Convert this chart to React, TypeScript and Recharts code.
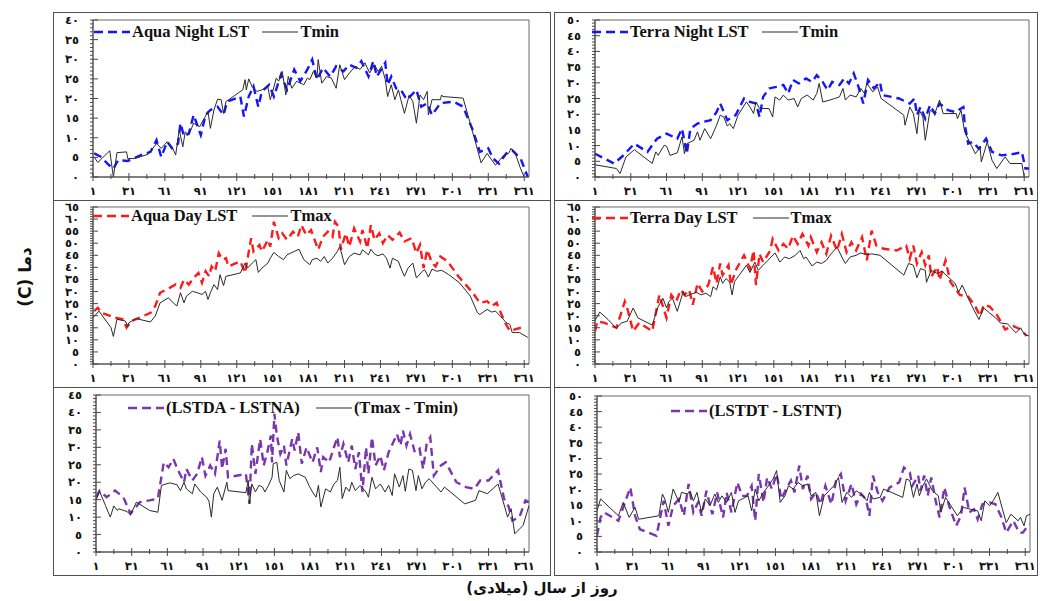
import React from "react";
import { LineChart, Line, XAxis, YAxis, ReferenceArea, Legend } from "recharts";

type Pt = [number, number];

// x axis: day of year
const dayTicks = [1, 16, 31, 46, 61, 76, 91, 106, 121, 136, 151, 166, 181, 196, 211, 226, 241, 256, 271, 286, 301, 316, 331, 346, 361];
const dayLabels = [1, 31, 61, 91, 121, 151, 181, 211, 241, 271, 301, 331, 361];

// top-left: Aqua night LST vs Tmin
const aquaNightLst: Pt[] = [
  [2, 6], [8, 5.1], [13, 3.4], [18, 2.1], [22, 4.3], [30, 4.1], [41, 5.6], [49, 6.4], [54, 9.4], [58, 5.1],
  [63, 9], [67, 7.3], [72, 8.5], [74, 13.7], [77, 10.3], [81, 11.1], [85, 15.8], [91, 10.7], [95, 15.8], [99, 17.1],
  [105, 17.9], [110, 15.8], [113, 19.2], [124, 20.5], [127, 15.4], [131, 20.5], [135, 23.1], [139, 17.9], [142, 21.8],
  [148, 23.5], [152, 20.5], [158, 26.1], [163, 22.2], [169, 27.4], [174, 24.4], [180, 27.4], [184, 29.9], [188, 24.8],
  [193, 27.8], [199, 25.6], [204, 28.2], [210, 26.9], [215, 28.6], [221, 27.8], [225, 29.5], [231, 25.6], [235, 29.5],
  [238, 25.6], [245, 29.1], [247, 23.5], [250, 25.6], [254, 22.6], [258, 22.2], [263, 19.7], [267, 20.9], [271, 22.2],
  [275, 17.9], [280, 18.8], [284, 15.8], [291, 18.8], [302, 19.2], [310, 17.9], [318, 12], [324, 6.4], [331, 7.3],
  [335, 4.7], [340, 3.4], [346, 6], [351, 6.8], [358, 4.7], [364, 0],
];
const tminAqua: Pt[] = [
  [2, 5.1], [5, 3.7], [15, 6.7], [18, 0], [21, 6.2], [29, 6.4], [30, 4.7], [36, 4.7], [47, 5.8], [54, 8.5], [58, 7.3],
  [63, 9], [67, 7.7], [70, 5.6], [73, 12], [76, 7.7], [78, 11.5], [81, 10.7], [85, 13.7], [90, 12.8], [94, 15], [97, 16.7],
  [99, 12.4], [102, 17.1], [105, 19.8], [108, 19.7], [110, 16.2], [112, 19.2], [126, 22.2], [128, 24.8], [129, 22.2],
  [131, 25], [134, 22.9], [138, 21.8], [142, 22.2], [147, 22.9], [149, 19.7], [152, 22.9], [154, 25.2], [156, 24.4],
  [159, 26.9], [162, 20.9], [164, 25.6], [167, 22.6], [171, 24.4], [177, 23.5], [180, 25.2], [182, 24.8], [185, 26.9],
  [188, 25.2], [189, 29.9], [192, 23.9], [196, 25.6], [200, 25.2], [204, 22.6], [207, 28.6], [211, 24.8], [215, 26.5],
  [220, 28.2], [224, 27.4], [228, 29.1], [232, 26.5], [236, 28.6], [239, 26.9], [242, 28.2], [245, 24.8], [247, 20.5],
  [250, 23.5], [253, 19.7], [256, 22.2], [258, 19.7], [261, 16.2], [265, 20.9], [268, 19.2], [271, 13.7], [274, 20.9],
  [277, 19.7], [280, 21.8], [281, 15.8], [284, 19.7], [291, 19.7], [292, 20.9], [293, 20.5], [310, 20.1], [319, 10.3],
  [325, 3.6], [330, 6], [337, 3], [344, 5.6], [348, 6], [350, 7.3], [354, 5.6], [358, 2.1], [361, 0],
];

// top-right: Terra night LST vs Tmin
const terraNightLst: Pt[] = [
  [1, 7.4], [17, 4.3], [24, 6.6], [34, 10.6], [45, 8], [53, 12.2], [61, 13.8], [70, 12.2], [74, 15.4], [78, 7.4],
  [81, 15.4], [87, 17], [92, 17.6], [98, 18.1], [103, 20.7], [106, 23.4], [112, 18.1], [119, 19.7], [126, 25], [131, 23.9],
  [136, 23.4], [139, 19.1], [142, 25.5], [147, 28.2], [153, 28.7], [159, 29.3], [163, 26.6], [167, 30.9], [172, 29.8],
  [178, 31.4], [183, 30.3], [187, 32.4], [192, 30.3], [196, 27.7], [200, 30.3], [206, 29.3], [210, 31.4], [214, 29.8],
  [218, 33], [222, 28.7], [226, 23.4], [230, 30.9], [235, 28.2], [240, 30.3], [242, 26.1], [256, 25], [265, 23.4],
  [269, 25], [271, 19.7], [274, 22.3], [278, 18.6], [282, 22.9], [286, 20.2], [290, 23.4], [297, 21.3], [303, 20.7],
  [310, 22.3], [311, 17], [314, 10.6], [318, 11.2], [323, 9], [329, 12.2], [334, 8], [342, 6.9], [353, 7.4], [359, 8],
  [362, 2.7], [365, 2.7],
];
const tminTerra: Pt[] = [
  [1, 3.9], [19, 2.7], [22, 1.1], [27, 6.4], [34, 8.7], [49, 4.3], [52, 8], [54, 6.9], [59, 10.1], [61, 9.8], [64, 6.9],
  [70, 7.7], [74, 12.8], [76, 7.4], [78, 10.6], [84, 11.7], [87, 14.4], [89, 11.7], [93, 15.4], [98, 12.2], [103, 16.5],
  [106, 19.7], [109, 19.1], [112, 16.2], [114, 17], [117, 15.4], [121, 19.7], [128, 23.9], [131, 22.3], [134, 20.2],
  [136, 23.9], [139, 21.8], [147, 21.8], [150, 19.1], [152, 25.5], [156, 24.5], [159, 26.1], [163, 24.5], [168, 25],
  [171, 22.3], [174, 25], [179, 26.1], [184, 24.5], [187, 26.6], [189, 29.8], [192, 23.9], [198, 24.5], [202, 25],
  [206, 25.5], [209, 28.2], [211, 24.5], [215, 26.1], [220, 25.5], [224, 28.2], [227, 26.6], [229, 29.8], [234, 27.1],
  [238, 28.7], [241, 25], [260, 19.7], [261, 16.5], [265, 22.3], [268, 20.2], [271, 13.8], [273, 21.3], [276, 19.1],
  [278, 11.7], [282, 21.3], [286, 20.2], [290, 24.5], [293, 20.2], [304, 20.2], [305, 18.6], [308, 21.3], [311, 14.4],
  [320, 7.4], [324, 9.6], [325, 4.8], [330, 11.2], [334, 5.3], [338, 2.7], [345, 6.4], [349, 4.3], [359, 4.3], [361, 0],
];

// middle-left: Aqua day LST vs Tmax
const aquaDayLst: Pt[] = [
  [2, 21.9], [5, 23.3], [8, 21.2], [19, 19.2], [26, 18.5], [29, 15.1], [33, 17.8], [40, 19.2], [49, 21.2], [53, 24],
  [57, 29.5], [65, 31.5], [70, 32.9], [74, 31.5], [77, 34.9], [81, 32.9], [85, 35.6], [89, 37.7], [92, 33.6], [95, 38.4],
  [98, 36.3], [100, 40.4], [103, 38.4], [106, 45.9], [109, 43.2], [112, 43.8], [114, 40.4], [124, 42.5], [128, 37.7],
  [133, 52.1], [135, 46.6], [140, 49.3], [142, 46.6], [147, 51.4], [149, 48.6], [152, 58.9], [156, 52.1], [159, 54.1],
  [163, 51.4], [168, 54.8], [172, 52.7], [175, 57.5], [179, 53.4], [183, 55.5], [186, 51.4], [189, 47.3], [193, 52.7],
  [197, 54.8], [201, 52.7], [203, 58.9], [206, 56.8], [208, 47.3], [212, 54.1], [215, 48.6], [219, 56.2], [224, 50.7],
  [226, 55.5], [230, 47.9], [233, 57.5], [236, 51.4], [240, 54.1], [243, 50], [247, 53.4], [251, 51.4], [257, 54.4],
  [261, 50.7], [267, 52.1], [271, 45.9], [274, 49.3], [277, 39.7], [280, 47.3], [284, 41.8], [287, 40.4], [291, 44.5],
  [297, 42.5], [306, 36.3], [318, 29.5], [324, 25.3], [330, 26], [334, 24], [338, 25.3], [345, 17.1], [349, 13.7],
  [359, 15.1],
];
const tmaxAqua: Pt[] = [
  [1, 19.2], [6, 21.9], [12, 17.8], [16, 15.1], [18, 11.4], [21, 18.5], [28, 17.8], [30, 15.5], [31, 17.1], [37, 18.8],
  [49, 17.4], [53, 19.9], [57, 25.3], [64, 27.4], [68, 25.3], [71, 24], [74, 29.5], [77, 25.3], [79, 28.1], [84, 30.1],
  [88, 29.5], [92, 28.8], [95, 30.1], [97, 26.7], [99, 29.5], [102, 32.9], [105, 30.8], [107, 37], [110, 32.5],
  [112, 36.3], [124, 37.7], [128, 41.8], [130, 39.7], [134, 41.8], [137, 43.2], [139, 37.9], [142, 39.7], [147, 41.8],
  [149, 43.8], [152, 46.2], [156, 44.5], [160, 43.2], [163, 45.2], [169, 46.6], [173, 47.5], [177, 43.2], [182, 41.1],
  [184, 43.2], [188, 43.8], [191, 42.5], [194, 44.5], [197, 41.8], [201, 43.8], [205, 46.6], [207, 48.6], [211, 41.1],
  [215, 44.5], [219, 45.9], [224, 45.2], [226, 47.3], [231, 45.2], [233, 47.5], [236, 45.6], [239, 44.8], [243, 45.6],
  [246, 43.8], [249, 39.7], [251, 43.8], [256, 42.5], [258, 39.7], [261, 36.3], [264, 39.7], [268, 41.8], [271, 35.6],
  [276, 38.4], [278, 39], [281, 36], [284, 39.3], [288, 38.4], [292, 38.8], [298, 37], [307, 33.6], [316, 28.1],
  [322, 21.2], [324, 20.5], [330, 22.6], [334, 21.5], [337, 21.9], [341, 19.9], [346, 17.1], [349, 16.4], [351, 13],
  [357, 13], [364, 11],
];

// middle-right: Terra day LST vs Tmax
const terraDayLst: Pt[] = [
  [1, 13.6], [3, 17.7], [9, 17], [19, 15], [26, 25.9], [28, 23.2], [33, 13.6], [38, 17], [49, 13.6], [55, 28.6],
  [61, 19.1], [65, 28.6], [69, 25.9], [73, 30.7], [76, 28.6], [80, 30.7], [83, 24.5], [87, 33.4], [91, 30], [96, 32.7],
  [100, 40.2], [103, 33.4], [106, 41.6], [108, 36.8], [113, 40.9], [115, 32.7], [119, 38.8], [126, 45], [131, 39.5],
  [134, 47], [136, 32.7], [139, 45.6], [142, 42.2], [148, 47], [150, 51.8], [155, 47], [159, 49.7], [163, 47.7],
  [167, 53.1], [171, 49.7], [175, 53.8], [180, 49], [182, 52.5], [187, 46.3], [191, 50.4], [195, 45.6], [199, 53.1],
  [204, 47], [208, 53.8], [212, 46.3], [216, 50.4], [220, 47], [225, 52.5], [229, 42.9], [233, 55.2], [237, 49],
  [243, 47.7], [254, 47], [262, 49], [265, 43.6], [268, 49], [271, 41.6], [275, 46.3], [278, 40.9], [281, 45],
  [283, 36.1], [288, 40.2], [290, 34.7], [295, 42.9], [299, 34.1], [303, 31.3], [307, 28.6], [314, 27.9], [320, 23.8],
  [324, 19.8], [327, 24.5], [332, 23.8], [338, 20.4], [345, 14.3], [352, 15.7], [358, 14.3], [363, 11.6],
];
const tmaxTerra: Pt[] = [
  [1, 18], [5, 21.5], [12, 18.4], [19, 14.7], [23, 17], [28, 17.7], [33, 23.2], [37, 19.1], [49, 16.1], [54, 23.8],
  [58, 27.2], [61, 23.2], [63, 25.9], [66, 27.2], [70, 21.8], [75, 30], [77, 27.9], [80, 28.6], [86, 29.7], [90, 28.6],
  [94, 29.3], [98, 27.9], [100, 32], [103, 30.7], [106, 36.1], [108, 33.4], [111, 35.4], [114, 33.8], [116, 28.6],
  [118, 34.1], [128, 40.9], [131, 37.9], [135, 42.2], [138, 38.8], [142, 40.9], [146, 42.9], [152, 46], [156, 42.2],
  [160, 44.3], [164, 43.6], [169, 45], [173, 47], [176, 43.6], [178, 44.3], [183, 40.6], [187, 42.2], [191, 41.6],
  [195, 42.9], [199, 45.6], [204, 48.4], [208, 44.3], [211, 41.6], [215, 44.3], [220, 45], [224, 46], [229, 45.2],
  [233, 45.6], [240, 45], [260, 36.8], [264, 41.6], [268, 40.9], [271, 35.7], [274, 39.5], [278, 38.8], [279, 33.8],
  [283, 38.8], [288, 37.5], [292, 38.4], [297, 36.1], [303, 33.4], [306, 29.7], [309, 32.7], [314, 27.2], [318, 23.2],
  [323, 18.4], [327, 23.2], [332, 21.1], [337, 19.1], [341, 17], [347, 16.6], [354, 12.9], [358, 15], [361, 12.3],
  [365, 11.6],
];

// bottom-left: diurnal range, Aqua
const rangeAquaLst: Pt[] = [
  [1, 15.7], [4, 17.6], [10, 15.7], [17, 17.6], [24, 15.7], [30, 11], [38, 14.3], [46, 14.8], [53, 15.3], [58, 25.7],
  [62, 24.3], [66, 26.7], [70, 23.4], [75, 20], [77, 23.8], [82, 20.5], [86, 22.4], [90, 27.2], [93, 21.9], [97, 24.8],
  [101, 22.4], [105, 31.9], [107, 23.8], [110, 29.6], [112, 21.4], [127, 22.4], [130, 13.8], [132, 31], [135, 22.4],
  [139, 32.4], [142, 24.8], [145, 28.6], [148, 33.4], [149, 25.7], [151, 39.6], [153, 33.4], [156, 28.1], [159, 30.5],
  [161, 24.8], [166, 32.4], [168, 29.1], [171, 34.3], [174, 25.3], [178, 30], [183, 25.7], [187, 30], [190, 22.9],
  [192, 27.2], [197, 25.7], [201, 30], [204, 32.9], [206, 27.2], [209, 31], [213, 25.7], [216, 30.5], [219, 23.8],
  [222, 28.6], [225, 17.2], [228, 30], [230, 22.4], [233, 32.9], [236, 24.8], [240, 27.6], [243, 23.4], [247, 28.6],
  [251, 31.5], [254, 33.8], [257, 30.5], [259, 34.8], [262, 30.5], [265, 33.8], [269, 28.6], [273, 29.6], [276, 23.8],
  [279, 31], [282, 32.9], [285, 21.9], [291, 24.8], [295, 25.7], [304, 20], [312, 18.6], [319, 18.1], [324, 20.5],
  [331, 20.5], [339, 23.4], [344, 15.3], [348, 12.9], [351, 9], [357, 10], [362, 14.8], [365, 14.3],
];
const rangeAquaAir: Pt[] = [
  [1, 14.8], [4, 17.4], [9, 13.3], [13, 10], [16, 13.2], [19, 11.9], [20, 12.4], [27, 11.6], [30, 10.7], [35, 14.3],
  [46, 11.9], [53, 11.4], [56, 19.1], [63, 19.8], [69, 19.3], [72, 17.6], [75, 20], [77, 18.1], [82, 16.7], [84, 19.5],
  [89, 17.2], [94, 15.7], [96, 14.5], [98, 10], [100, 16.7], [103, 18.6], [107, 14.8], [111, 20], [112, 17.6], [127, 17],
  [129, 20.5], [130, 13.8], [132, 19.5], [135, 17.2], [138, 19.1], [141, 18.6], [143, 17.2], [146, 19.1], [149, 21.4],
  [150, 25.3], [153, 25.7], [155, 20.5], [159, 17.2], [161, 23.4], [164, 21], [167, 21.9], [171, 22.4], [177, 21.4],
  [180, 19.1], [183, 17.2], [186, 15.7], [188, 19.1], [190, 12.9], [194, 18.1], [198, 17.2], [201, 19.5], [204, 20.5],
  [206, 24.3], [208, 15.3], [211, 18.6], [214, 17.4], [216, 20], [219, 17.6], [223, 19.1], [228, 17.2], [230, 15.7],
  [233, 21.4], [236, 18.1], [240, 19.5], [244, 17.2], [247, 19.1], [250, 16.2], [252, 22.4], [256, 18.6], [259, 21.9],
  [261, 17.4], [264, 23.8], [267, 23.4], [270, 17.6], [272, 21.9], [275, 18.1], [278, 20], [281, 21], [285, 19.5],
  [291, 17.2], [294, 18.6], [311, 13.8], [320, 14.8], [323, 17.6], [330, 16.7], [339, 19.5], [343, 14.8], [347, 10],
  [350, 12.4], [353, 5.2], [360, 7.6], [365, 13.3],
];

// bottom-right: diurnal range, Terra
const rangeTerraLst: Pt[] = [
  [1, 5.2], [4, 11.1], [7, 12.7], [19, 10], [29, 20.7], [33, 11.6], [37, 7.3], [51, 5.2], [57, 16.4], [61, 8.4],
  [65, 14.8], [70, 17], [74, 11.6], [78, 21.8], [82, 12.7], [86, 15.9], [89, 11.6], [93, 19.6], [98, 12.1], [102, 19.1],
  [105, 14.3], [107, 11.1], [110, 19.1], [114, 12.7], [119, 22.3], [123, 18], [127, 18], [131, 21.2], [134, 10],
  [137, 25], [141, 15.9], [144, 23.9], [148, 20.2], [152, 25], [156, 17], [160, 20.2], [164, 22.9], [167, 19.1],
  [171, 27.7], [174, 20.2], [178, 24.5], [181, 17], [185, 19.1], [189, 15.3], [193, 21.2], [198, 15.3], [202, 22.9],
  [206, 25], [210, 16.4], [215, 21.8], [219, 15.3], [223, 18.6], [227, 17], [230, 11.6], [233, 24.5], [237, 19.1],
  [241, 16.4], [247, 20.7], [255, 22.3], [259, 27.1], [264, 25.5], [266, 21.2], [271, 24.5], [273, 19.6], [276, 24.5],
  [279, 18], [282, 23.9], [286, 15.9], [289, 11.1], [293, 20.7], [297, 14.8], [303, 8.4], [307, 11.6], [310, 20.7],
  [314, 12.7], [318, 13.7], [321, 10.5], [325, 15.3], [331, 15.9], [336, 15.3], [341, 11.1], [345, 6.2], [351, 10],
  [356, 6.2], [359, 6.2], [362, 7.8], [365, 8.9],
];
const rangeTerraAir: Pt[] = [
  [1, 13.2], [4, 17], [19, 11.6], [23, 15.9], [28, 11.1], [33, 14.3], [36, 10.5], [53, 11.6], [56, 18.6], [58, 17],
  [61, 12.7], [65, 20.2], [70, 15.9], [72, 19.1], [77, 18.6], [79, 19.6], [82, 16.4], [85, 19.1], [89, 12.7], [92, 17],
  [96, 14.8], [100, 18.6], [103, 15.9], [106, 18], [110, 15.9], [114, 19.1], [117, 12.7], [120, 16.4], [128, 18],
  [131, 13.2], [134, 20.2], [137, 16.4], [141, 19.1], [145, 21.2], [149, 23.4], [152, 26.1], [155, 15.9], [159, 18],
  [162, 21.2], [166, 20.2], [170, 22.3], [174, 21.2], [178, 21.8], [181, 18], [185, 19.1], [188, 11.6], [192, 18],
  [196, 19.6], [200, 21.2], [204, 23.9], [207, 15.9], [211, 19.1], [215, 17.5], [219, 19.6], [223, 18.6], [228, 16.4],
  [230, 19.1], [233, 17], [239, 17.5], [242, 20.2], [258, 17.5], [261, 23.4], [264, 22.9], [267, 17.5], [270, 21.8],
  [272, 18], [275, 21.2], [278, 23.4], [283, 19.6], [288, 18], [290, 12.7], [294, 17.5], [304, 11.6], [309, 14.3],
  [315, 13.7], [321, 13.2], [324, 10], [327, 16.4], [331, 14.8], [334, 16.4], [338, 19.1], [345, 9.4], [349, 12.1],
  [355, 10], [357, 11.1], [360, 8.4], [362, 11.6], [365, 12.1],
];

const BLUE = "#1414ff";
const RED = "#ff1a1a";
const PURPLE = "#7a36ae";
const BLACK = "#2a2a2a";
const AXIS = "#4a4a4a";

const YW = 30;
const XH = 20;
const PAD_TOP = 8;

const arabic = (n: number) => String(n).replace(/\d/g, (d) => "٠١٢٣٤٥٦٧٨٩"[Number(d)]);
const intTicks = (max: number) => Array.from({ length: max + 1 }, (_, i) => i);

const XTick = (props: any) => {
  const { x, y, payload } = props;
  const v = payload.value;
  const major = dayLabels.includes(v);
  return (
    <g>
      <line x1={x} x2={x} y1={major ? y - 4 : y - 3} y2={major ? y + 4 : y + 2} stroke={AXIS} strokeWidth={1} />
      {major && (
        <text x={x} y={y + 18} textAnchor="middle" fontSize={11.5} fontWeight={700} fill="#111" fontFamily="DejaVu Sans">
          {arabic(v)}
        </text>
      )}
    </g>
  );
};

const YTick = (props: any) => {
  const { x, y, payload } = props;
  const v = payload.value;
  const major = v % 5 === 0;
  return (
    <g>
      <line x1={x - 3} x2={major ? x + 5 : x} y1={y} y2={y} stroke={AXIS} strokeWidth={1} />
      {major && (
        <text x={x - 14} y={y} dy={4} textAnchor="end" fontSize={11.5} fontWeight={700} fill="#111" fontFamily="DejaVu Sans">
          {arabic(v)}
        </text>
      )}
    </g>
  );
};

const legendContent = (sample: number, gap: number) => (props: any) => {
  const items = (props.payload || []).filter((p: any) => p.type !== "none");
  return (
    <div
      style={{
        display: "flex",
        alignItems: "center",
        height: 20,
        whiteSpace: "nowrap",
        fontFamily: "'Liberation Serif', 'Times New Roman', serif",
        fontWeight: 700,
        fontSize: 16.5,
        color: "#111",
      }}
    >
      {items.map((p: any, i: number) => {
        const dashed = p.color !== BLACK;
        return (
          <div key={i} style={{ display: "flex", alignItems: "center", marginRight: gap }}>
            <svg width={sample} height={8}>
              <line
                x1={0}
                x2={sample}
                y1={4}
                y2={4}
                stroke={p.color}
                strokeWidth={dashed ? 2.6 : 1.2}
                strokeDasharray={dashed ? "9 5" : undefined}
              />
            </svg>
            <span style={{ marginLeft: 2 }}>{p.value}</span>
          </div>
        );
      })}
    </div>
  );
};

interface Series {
  name: string;
  data: Pt[];
  color: string;
  dashed: boolean;
  legend: boolean;
}

interface PanelProps {
  frame: { left: number; top: number; width: number; height: number };
  plot: { x0: number; x1: number; y0: number; y1: number };
  yMax: number;
  series: Series[];
  legendAt: { x: number; y: number };
  gap: number;
}

function Panel({ frame, plot, yMax, series, legendAt, gap }: PanelProps) {
  // the svg reaches a little above the frame so the top tick label is not clipped
  const cl = frame.left + 1;
  const ct = frame.top - PAD_TOP;
  const cw = frame.width - 2;
  const ch = frame.height + PAD_TOP - 1;
  const margin = {
    left: plot.x0 - cl - YW,
    right: cl + cw - plot.x1,
    top: plot.y0 - ct,
    bottom: ct + ch - plot.y1 - XH,
  };
  return (
    <>
      <div
        style={{
          position: "absolute",
          left: frame.left,
          top: frame.top,
          width: frame.width,
          height: frame.height,
          border: "1.5px solid #505050",
          boxSizing: "border-box",
        }}
      />
      <div style={{ position: "absolute", left: cl, top: ct }}>
        <LineChart width={cw} height={ch} margin={margin}>
          <XAxis
            type="number"
            dataKey="d"
            domain={[1, 365]}
            ticks={dayTicks}
            interval={0}
            allowDataOverflow
            height={XH}
            tickSize={0}
            tickMargin={0}
            tickLine={false}
            axisLine={{ stroke: AXIS }}
            tick={(p: any) => <XTick {...p} />}
          />
          <YAxis
            type="number"
            domain={[0, yMax]}
            ticks={intTicks(yMax)}
            interval={0}
            allowDataOverflow
            width={YW}
            tickSize={0}
            tickMargin={0}
            tickLine={false}
            axisLine={{ stroke: AXIS }}
            tick={(p: any) => <YTick {...p} />}
          />
          <ReferenceArea x1={1} x2={365} y1={0} y2={yMax} fill="none" stroke="#6a6a6a" strokeWidth={1} />
          {series.map((s) => (
            <Line
              key={s.name}
              name={s.name}
              data={s.data.map(([d, v]) => ({ d, v }))}
              dataKey="v"
              type="linear"
              stroke={s.color}
              strokeWidth={s.dashed ? 2.4 : 1}
              strokeDasharray={s.dashed ? "8 5" : undefined}
              dot={false}
              activeDot={false}
              legendType={s.legend ? "line" : "none"}
              isAnimationActive={false}
            />
          ))}
          <Legend
            layout="horizontal"
            verticalAlign="middle"
            align="center"
            wrapperStyle={{ left: legendAt.x - cl, top: legendAt.y - 10 - ct, width: 420 }}
            content={legendContent(36, gap)}
          />
        </LineChart>
      </div>
    </>
  );
}

const leftCol = { left: 53, width: 498 };
const rightCol = { left: 554, width: 484 };

export default function App() {
  return (
    <div
      style={{
        position: "absolute",
        left: 0,
        top: 0,
        width: 1040,
        height: 601,
        background: "#fff",
        fontFamily: "'DejaVu Sans', sans-serif",
      }}
    >
      <Panel
        frame={{ ...leftCol, top: 12, height: 189 }}
        plot={{ x0: 93, x1: 529, y0: 20, y1: 177 }}
        yMax={40}
        legendAt={{ x: 94, y: 32 }}
        gap={13}
        series={[
          { name: "Aqua Night LST", data: aquaNightLst, color: BLUE, dashed: true, legend: true },
          { name: "Tmin", data: tminAqua, color: BLACK, dashed: false, legend: true },
        ]}
      />
      <Panel
        frame={{ ...rightCol, top: 12, height: 189 }}
        plot={{ x0: 595, x1: 1029, y0: 20, y1: 177 }}
        yMax={50}
        legendAt={{ x: 592, y: 32 }}
        gap={13}
        series={[
          { name: "Terra Night LST", data: terraNightLst, color: BLUE, dashed: true, legend: true },
          { name: "Tmin", data: tminTerra, color: BLACK, dashed: false, legend: true },
        ]}
      />
      <Panel
        frame={{ ...leftCol, top: 200, height: 188 }}
        plot={{ x0: 93, x1: 529, y0: 207, y1: 364 }}
        yMax={65}
        legendAt={{ x: 93, y: 216 }}
        gap={15}
        series={[
          { name: "Aqua Day LST", data: aquaDayLst, color: RED, dashed: true, legend: true },
          { name: "Tmax", data: tmaxAqua, color: BLACK, dashed: false, legend: true },
        ]}
      />
      <Panel
        frame={{ ...rightCol, top: 200, height: 188 }}
        plot={{ x0: 595, x1: 1029, y0: 207, y1: 364 }}
        yMax={65}
        legendAt={{ x: 592, y: 218 }}
        gap={15}
        series={[
          { name: "Terra Day LST", data: terraDayLst, color: RED, dashed: true, legend: true },
          { name: "Tmax", data: tmaxTerra, color: BLACK, dashed: false, legend: true },
        ]}
      />
      <Panel
        frame={{ ...leftCol, top: 387, height: 189 }}
        plot={{ x0: 96, x1: 529, y0: 395, y1: 552 }}
        yMax={45}
        legendAt={{ x: 128, y: 408 }}
        gap={16}
        series={[
          { name: "(LSTDA - LSTNA)", data: rangeAquaLst, color: PURPLE, dashed: true, legend: true },
          { name: "(Tmax - Tmin)", data: rangeAquaAir, color: BLACK, dashed: false, legend: true },
        ]}
      />
      <Panel
        frame={{ ...rightCol, top: 387, height: 189 }}
        plot={{ x0: 597, x1: 1030, y0: 396, y1: 552 }}
        yMax={50}
        legendAt={{ x: 671, y: 411 }}
        gap={14}
        series={[
          { name: "(LSTDT - LSTNT)", data: rangeTerraLst, color: PURPLE, dashed: true, legend: true },
          { name: "Tmax - Tmin", data: rangeTerraAir, color: BLACK, dashed: false, legend: false },
        ]}
      />
      <div
        style={{
          position: "absolute",
          left: 25,
          top: 277,
          transform: "translate(-50%, -50%) rotate(-90deg)",
          whiteSpace: "nowrap",
          direction: "rtl",
          fontWeight: 700,
          fontSize: 17,
          color: "#111",
        }}
      >
        دما (C)
      </div>
      <div
        style={{
          position: "absolute",
          left: 432,
          width: 220,
          top: 579,
          textAlign: "center",
          direction: "rtl",
          fontWeight: 700,
          fontSize: 15,
          color: "#111",
        }}
      >
        روز از سال (میلادی)
      </div>
    </div>
  );
}
